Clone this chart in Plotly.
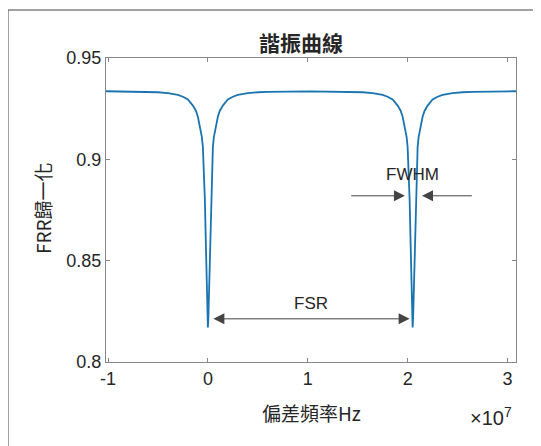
import plotly.graph_objects as go

# Frequency offset (Hz) and normalised FRR values
freq_hz = [-1.02e7, -6e6, -5e6, -4e6, -3e6, -2.5e6, -2e6, -1.5e6, -1.2e6, -1e6, -8e5,
           -6e5, -5e5, -4e5, -3e5, -2e5, -1.5e5, -1e5, -5e4, 0, 5e4, 1e5, 1.5e5, 2e5,
           3e5, 4e5, 5e5, 6e5, 8e5, 1e6, 1.2e6, 1.5e6, 2e6, 2.5e6, 3e6, 4e6, 5e6, 6e6,
           1.025e7,
           1.45e7, 1.55e7, 1.65e7, 1.75e7, 1.8e7, 1.85e7, 1.9e7, 1.93e7, 1.95e7,
           1.97e7, 1.99e7, 2.0e7, 2.01e7, 2.02e7, 2.03e7, 2.035e7, 2.04e7, 2.045e7,
           2.05e7, 2.055e7, 2.06e7, 2.065e7, 2.07e7, 2.08e7, 2.09e7, 2.10e7, 2.11e7,
           2.13e7, 2.15e7, 2.17e7, 2.2e7, 2.25e7, 2.3e7, 2.35e7, 2.45e7, 2.55e7,
           2.65e7, 3.085e7]
frr_norm = [0.9336, 0.9333, 0.9331, 0.9327, 0.9318, 0.9309, 0.9295, 0.9265, 0.9240,
            0.9210, 0.9165, 0.9110, 0.9060, 0.8960, 0.8800, 0.8580, 0.8450, 0.8320,
            0.8220, 0.8170, 0.8220, 0.8320, 0.8450, 0.8580, 0.8800, 0.8960, 0.9060,
            0.9110, 0.9165, 0.9210, 0.9240, 0.9265, 0.9295, 0.9309, 0.9318, 0.9327,
            0.9331, 0.9333, 0.9335,
            0.9333, 0.9331, 0.9327, 0.9318, 0.9309, 0.9295, 0.9265, 0.9240, 0.9210,
            0.9165, 0.9110, 0.9060, 0.8960, 0.8800, 0.8580, 0.8450, 0.8320, 0.8220,
            0.8170, 0.8220, 0.8320, 0.8450, 0.8580, 0.8800, 0.8960, 0.9060, 0.9110,
            0.9165, 0.9210, 0.9240, 0.9265, 0.9295, 0.9309, 0.9318, 0.9327, 0.9331,
            0.9333, 0.9336]

x_tick_vals = [-1e7, 0, 1e7, 2e7, 3e7]
x_tick_text = ["-1", "0", "1", "2", "3"]
y_tick_vals = [0.8, 0.85, 0.9, 0.95]
y_tick_text = ["0.8", "0.85", "0.9", "0.95"]

fsr_start, fsr_end, fsr_level = 0.04e7, 2.02e7, 0.8213
fwhm_level = 0.882
fwhm_left_tail, fwhm_left_tip = 1.42e7, 1.973e7
fwhm_right_tail, fwhm_right_tip = 2.658e7, 2.144e7

FONT = "Liberation Sans, Arial, Noto Sans CJK TC, sans-serif"
CJK = "Noto Sans CJK TC, Liberation Sans, sans-serif"
AXC = "#888888"

fig = go.Figure()
fig.add_trace(go.Scatter(x=freq_hz, y=frr_norm, mode="lines",
                         line=dict(color="#1a74b0", width=1.8), showlegend=False,
                         hoverinfo="skip"))

# page body has an 8px margin; coordinates below are in page pixels minus 8
OFF = 8
W, H = 541 - OFF, 446 - OFF
L, R, T, B = 106 - OFF, 516 - OFF, 58 - OFF, 362 - OFF
fig.update_layout(
    width=W, height=H,
    margin=dict(l=L, r=W - R, t=T, b=H - B),
    paper_bgcolor="white", plot_bgcolor="white",
    font=dict(family=FONT, color="#262626", size=18),
    xaxis=dict(range=[-1.02e7, 3.085e7], tickvals=x_tick_vals, ticktext=x_tick_text,
               showgrid=False, zeroline=False, showline=True, linecolor=AXC,
               linewidth=1, mirror="ticks", ticks="inside", ticklen=4,
               tickcolor=AXC, tickfont=dict(size=18, family=FONT, color="#262626")),
    yaxis=dict(range=[0.8, 0.95], tickvals=y_tick_vals, ticktext=y_tick_text,
               showgrid=False, zeroline=False, showline=True, linecolor=AXC,
               linewidth=1, mirror="ticks", ticks="inside", ticklen=4,
               tickcolor=AXC, tickfont=dict(size=18, family=FONT, color="#262626")),
)

def px(xp):
    return (xp - OFF - L) / (R - L)

def py(yp):
    return (B - (yp - OFF)) / (B - T)

annos = [
    dict(text="<b>諧振曲線</b>", x=px(301), y=py(42), font=dict(size=21, family=CJK)),
    dict(text="偏差頻率Hz", x=px(311), y=py(412), font=dict(size=19, family=CJK)),
    dict(text="FRR歸一化", x=px(42), y=py(208), textangle=-90,
         font=dict(size=19, family=CJK)),
    dict(text="×10<sup>7</sup>", x=px(491), y=py(416), font=dict(size=20, family=FONT)),
]
for a in annos:
    fig.add_annotation(xref="paper", yref="paper", showarrow=False,
                       xanchor="center", yanchor="middle", **a)

# FSR double arrow
fig.add_annotation(x=fsr_end, y=fsr_level, ax=fsr_start, ay=fsr_level,
                   xref="x", yref="y", axref="x", ayref="y", text="",
                   showarrow=True, arrowhead=2, startarrowhead=2,
                   arrowside="end+start", arrowsize=2.2, startarrowsize=2.2,
                   arrowwidth=1, arrowcolor="#444444")
fig.add_annotation(x=(fsr_start + fsr_end) / 2, y=0.829, xref="x", yref="y",
                   text="FSR", showarrow=False, font=dict(size=17, family=FONT))

# FWHM arrows
fig.add_annotation(x=fwhm_left_tip, y=fwhm_level, ax=fwhm_left_tail, ay=fwhm_level,
                   xref="x", yref="y", axref="x", ayref="y", text="",
                   showarrow=True, arrowhead=2, arrowsize=2.2, arrowwidth=1,
                   arrowcolor="#444444")
fig.add_annotation(x=fwhm_right_tip, y=fwhm_level, ax=fwhm_right_tail, ay=fwhm_level,
                   xref="x", yref="y", axref="x", ayref="y", text="",
                   showarrow=True, arrowhead=2, arrowsize=2.2, arrowwidth=1,
                   arrowcolor="#444444")
fig.add_annotation(x=2.05e7, y=0.8926, xref="x", yref="y", text="FWHM",
                   showarrow=False, font=dict(size=17, family=FONT))

# outer frame of the figure window
fig.add_shape(type="rect", xref="paper", yref="paper",
              x0=px(8), x1=px(600), y0=py(500), y1=py(10),
              line=dict(color="#444444", width=1), layer="below")

fig.write_html("out.html")
